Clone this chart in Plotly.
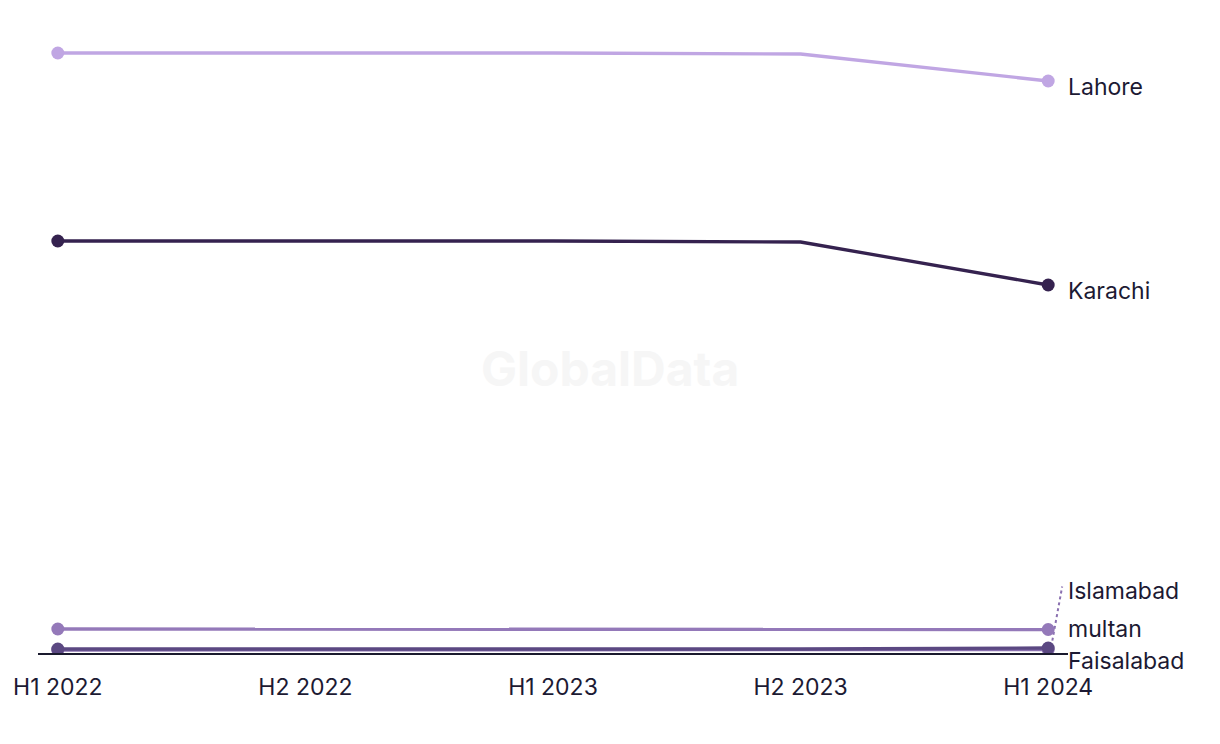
import plotly.graph_objects as go

periods = ["H1 2022", "H2 2022", "H1 2023", "H2 2023", "H1 2024"]
lahore = [60.0, 60.0, 60.0, 59.9, 57.2]
karachi = [41.2, 41.2, 41.2, 41.1, 36.8]
islamabad = [0.3, 0.3, 0.3, 0.3, 0.35]
multan = [2.4, 2.4, 2.4, 2.4, 2.35]
faisalabad = [0.4, 0.4, 0.4, 0.4, 0.5]

series = [
    ("Islamabad", islamabad, "#8a70b0"),
    ("Faisalabad", faisalabad, "#5b4882"),
    ("multan", multan, "#9479b9"),
    ("Karachi", karachi, "#35224f"),
    ("Lahore", lahore, "#c0a6e3"),
]
# label vertical pixel offsets relative to the end value
label_shift = {"Lahore": -6, "Karachi": -6, "multan": 1, "Faisalabad": -13, "Islamabad": 59}

FONT = "Inter, Roboto, sans-serif"
fig = go.Figure()
n = len(periods)
for name, vals, col in series:
    sizes = [13 if i in (0, n - 1) else 0 for i in range(n)]
    fig.add_trace(go.Scatter(
        x=periods, y=vals, mode="lines+markers", name=name,
        line=dict(color=col, width=3.3),
        marker=dict(size=sizes, color=col, opacity=1, line=dict(width=0)),
        opacity=1,
        showlegend=False, hoverinfo="x+y+name",
    ))
    fig.add_annotation(
        x=periods[-1], y=vals[-1], xref="x", yref="y",
        text=name, showarrow=False, xanchor="left", yanchor="middle",
        xshift=18, yshift=label_shift[name],
        font=dict(size=23, color="#1c1a33", family=FONT),
    )

# dashed leader for Islamabad
fig.add_shape(
    type="line", xref="x", yref="y",
    xsizemode="pixel", ysizemode="pixel",
    xanchor=periods[-1], yanchor=islamabad[-1],
    x0=2, x1=14, y0=-3, y1=63,
    line=dict(color="#8a70b0", width=2, dash="dot"),
    layer="below",
)

fig.add_annotation(
    x=(610 - 38) / 1030, y=0.45, xref="paper", yref="paper", text="<b>GlobalData</b>",
    showarrow=False, font=dict(size=48, color="#f6f6f6", family=FONT),
)

fig.update_layout(
    width=1220, height=744,
    margin=dict(l=38, r=152, t=20, b=91),
    paper_bgcolor="white", plot_bgcolor="white",
    xaxis=dict(
        type="category", range=[-0.08, 4.08],
        showgrid=False, zeroline=False, showline=True, linecolor="#1a1a2e", linewidth=1.5,
        ticks="outside", ticklen=13, tickcolor="rgba(0,0,0,0)",
        tickfont=dict(size=23, color="#1c1a33", family=FONT),
    ),
    yaxis=dict(
        range=[0, 63.3], visible=False, showgrid=False, zeroline=False,
    ),
)

fig.write_html("out.html")
